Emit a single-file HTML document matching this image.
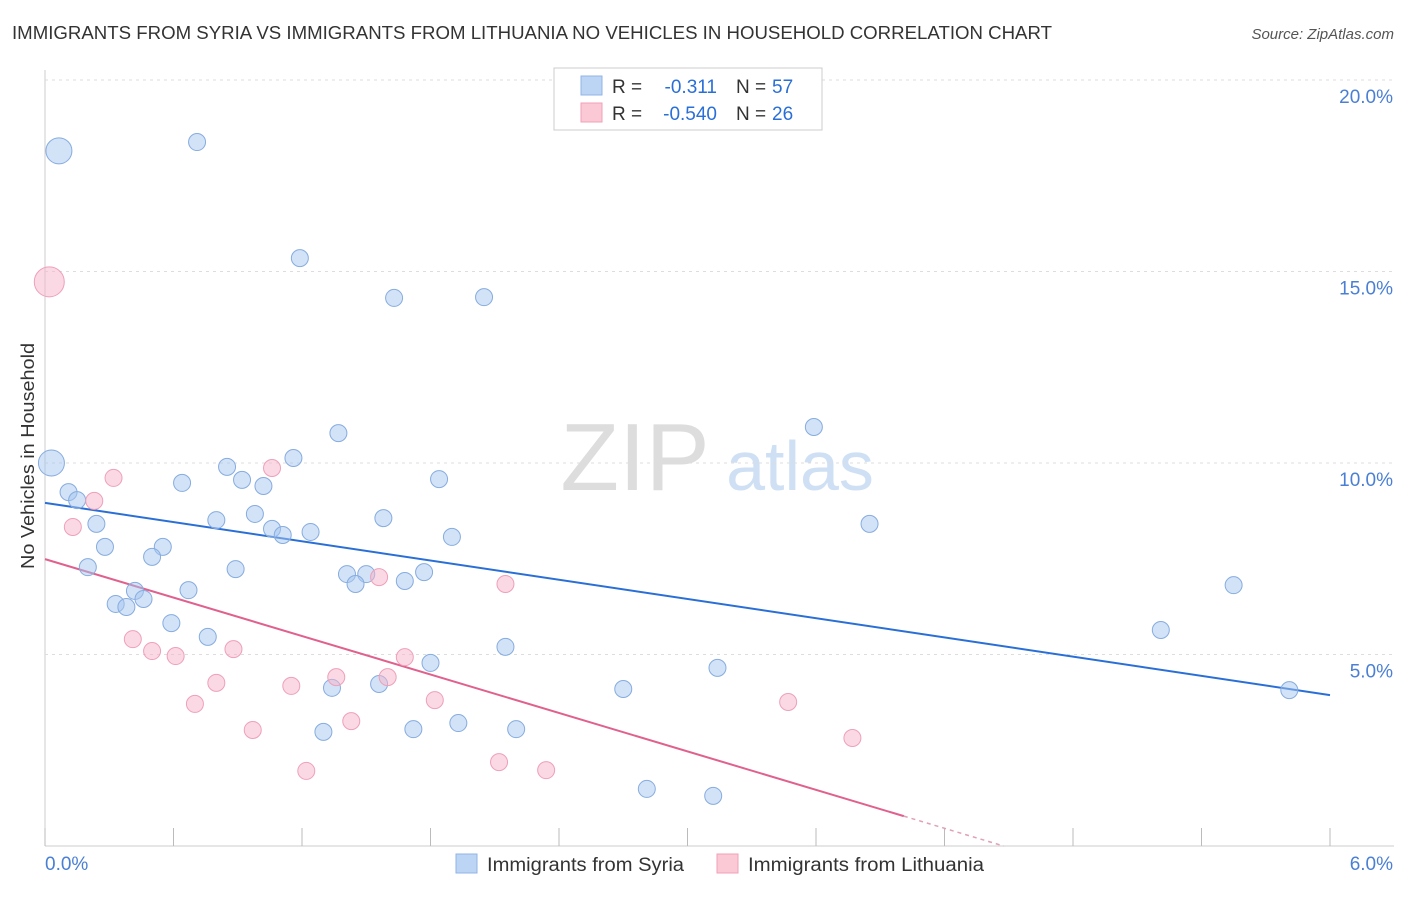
<!DOCTYPE html>
<html><head><meta charset="utf-8"><style>
body{margin:0;background:#fff;font-family:"Liberation Sans",sans-serif;}
svg text{font-family:"Liberation Sans",sans-serif;}
</style></head><body>
<svg id="chart" width="1406" height="892">
<text x="12" y="39" font-size="18" fill="#333" textLength="1040" lengthAdjust="spacingAndGlyphs">IMMIGRANTS FROM SYRIA VS IMMIGRANTS FROM LITHUANIA NO VEHICLES IN HOUSEHOLD CORRELATION CHART</text>
<text x="1394" y="39" font-size="15" fill="#555" font-style="italic" text-anchor="end">Source: ZipAtlas.com</text>
<text x="635" y="490" font-size="96" fill="#ddd" font-family="Liberation Serif" text-anchor="middle">ZIP</text>
<text x="800" y="490" font-size="70" fill="#cfe0f5" text-anchor="middle">atlas</text>
<text transform="translate(34,456) rotate(-90)" font-size="18" fill="#333" text-anchor="middle" textLength="226" lengthAdjust="spacingAndGlyphs">No Vehicles in Household</text>
<g id="grid"></g><g id="ticks"></g><g id="lines"></g><g id="pts"></g>
<g>
<rect x="554" y="68" width="268" height="62" fill="#fff" stroke="#ccc"/>
<rect x="581" y="76" width="21" height="19" fill="#bcd5f5" stroke="#8fb4e6"/>
<rect x="581" y="103" width="21" height="19" fill="#fbc8d6" stroke="#f0a0b8"/>
<text x="612" y="93" font-size="19" fill="#333">R =</text>
<text x="717" y="93" font-size="19" fill="#2a6fd6" text-anchor="end">-0.311</text>
<text x="736" y="93" font-size="19" fill="#333">N =</text>
<text x="772" y="93" font-size="19" fill="#2a6fd6">57</text>
<text x="612" y="120" font-size="19" fill="#333">R =</text>
<text x="717" y="120" font-size="19" fill="#2a6fd6" text-anchor="end">-0.540</text>
<text x="736" y="120" font-size="19" fill="#333">N =</text>
<text x="772" y="120" font-size="19" fill="#2a6fd6">26</text>
</g>
<g>
<rect x="456" y="854" width="21" height="19" fill="#bcd5f5" stroke="#8fb4e6"/>
<text x="487" y="871" font-size="19" fill="#333" textLength="197" lengthAdjust="spacingAndGlyphs">Immigrants from Syria</text>
<rect x="717" y="854" width="21" height="19" fill="#fbc8d6" stroke="#f0a0b8"/>
<text x="748" y="871" font-size="19" fill="#333" textLength="236" lengthAdjust="spacingAndGlyphs">Immigrants from Lithuania</text>
</g>
<text x="45" y="870" font-size="19" fill="#4a7fd4">0.0%</text>
<text x="1393" y="870" font-size="19" fill="#4a7fd4" text-anchor="end">6.0%</text>
</svg>
<script>
const syriaX=[.065,.71,1.19,1.63,2.05,1.37,3.59,.03,1.16,.85,.64,.92,1.02,1.84,.11,.15,.98,.80,1.58,.24,3.85,1.06,1.11,1.24,1.90,.28,.55,.50,.20,.89,1.41,1.50,1.45,1.68,1.77,.67,.42,.46,.33,.38,.59,.76,2.15,5.21,5.55,1.80,3.14,1.34,1.56,2.70,5.81,1.93,1.72,1.30,2.20,2.81,3.12];
const syriaY=[18.15,18.38,15.35,14.31,14.33,10.78,10.94,10.0,10.13,9.90,9.48,9.56,9.40,9.58,9.24,9.03,8.67,8.51,8.56,8.41,8.41,8.28,8.12,8.20,8.07,7.81,7.81,7.55,7.28,7.23,7.10,7.10,6.84,6.92,7.15,6.68,6.66,6.45,6.32,6.24,5.82,5.46,5.20,5.64,6.81,4.78,4.65,4.13,4.23,4.10,4.07,3.21,3.05,2.98,3.05,1.49,1.31];
const syriaBig=[0,7];
const lithX=[.02,.32,1.06,.23,.13,2.15,1.56,.41,.50,.61,.88,.80,.70,1.68,1.36,1.60,1.15,1.82,.97,1.43,3.47,3.77,1.22,2.12,2.34];
const lithY=[14.73,9.61,9.87,9.01,8.33,6.84,7.02,5.40,5.09,4.96,5.14,4.26,3.71,4.93,4.41,4.41,4.18,3.81,3.03,3.26,3.76,2.82,1.96,2.19,1.98];
const lithBig=[0];
const yTicks=[5,10,15,20];
const yTickLabels=["5.0%","10.0%","15.0%","20.0%"];
const xTicks=[0,0.6,1.2,1.8,2.4,3.0,3.6,4.2,4.8,5.4,6.0];
const syriaTrend=[8.96,3.94];
const lithTrend=[7.49,0.78,4.01];
const NS="http://www.w3.org/2000/svg";
const X=v=>45+v/6*1285, Y=v=>846-v*38.3;
function mk(t,p,a){const e=document.createElementNS(NS,t);for(const k in a)e.setAttribute(k,a[k]);p.appendChild(e);return e;}
const grid=document.getElementById('grid'),ticks=document.getElementById('ticks'),lines=document.getElementById('lines'),pts=document.getElementById('pts');
mk('line',grid,{x1:45,y1:70,x2:45,y2:846,stroke:'#ccc'});
mk('line',grid,{x1:45,y1:846,x2:1394,y2:846,stroke:'#ccc'});
yTicks.forEach((v,i)=>{const l=mk('line',grid,{x1:45,x2:1394,y1:Y(v),y2:Y(v),stroke:'#ddd','stroke-dasharray':'3,4'});


const t=mk('text',ticks,{x:1393,y:Y(v)+23,'font-size':19,fill:'#4a7fd4','text-anchor':'end'});t.textContent=yTickLabels[i];

});
xTicks.forEach(v=>{const l=mk('line',ticks,{x1:X(v),x2:X(v),y1:828,y2:846,stroke:'#bbb'});

});
const bl=mk('line',lines,{x1:X(0),y1:Y(syriaTrend[0]),x2:X(6),y2:Y(syriaTrend[1]),stroke:'#2a6fd6','stroke-width':2});


const pl=mk('line',lines,{x1:X(0),y1:Y(lithTrend[0]),x2:X(lithTrend[2]),y2:Y(lithTrend[1]),stroke:'#e0608e','stroke-width':2});


const slope=(lithTrend[1]-lithTrend[0])/lithTrend[2], x0=-lithTrend[0]/slope;
const pd=mk('line',lines,{x1:X(lithTrend[2]),y1:Y(lithTrend[1]),x2:X(x0),y2:Y(0),stroke:'#e0a0b8','stroke-width':1.5,'stroke-dasharray':'4,4'});


syriaX.forEach((x,i)=>{const c=mk('circle',pts,{cx:X(x),cy:Y(syriaY[i]),r:syriaBig.includes(i)?13:8.5,fill:'rgba(165,198,240,0.5)',stroke:'#86acdf','stroke-width':1});

});
lithX.forEach((x,i)=>{const c=mk('circle',pts,{cx:X(x),cy:Y(lithY[i]),r:lithBig.includes(i)?15:8.5,fill:'rgba(248,180,202,0.5)',stroke:'#eea0b9','stroke-width':1});

});
</script>
</body></html>
